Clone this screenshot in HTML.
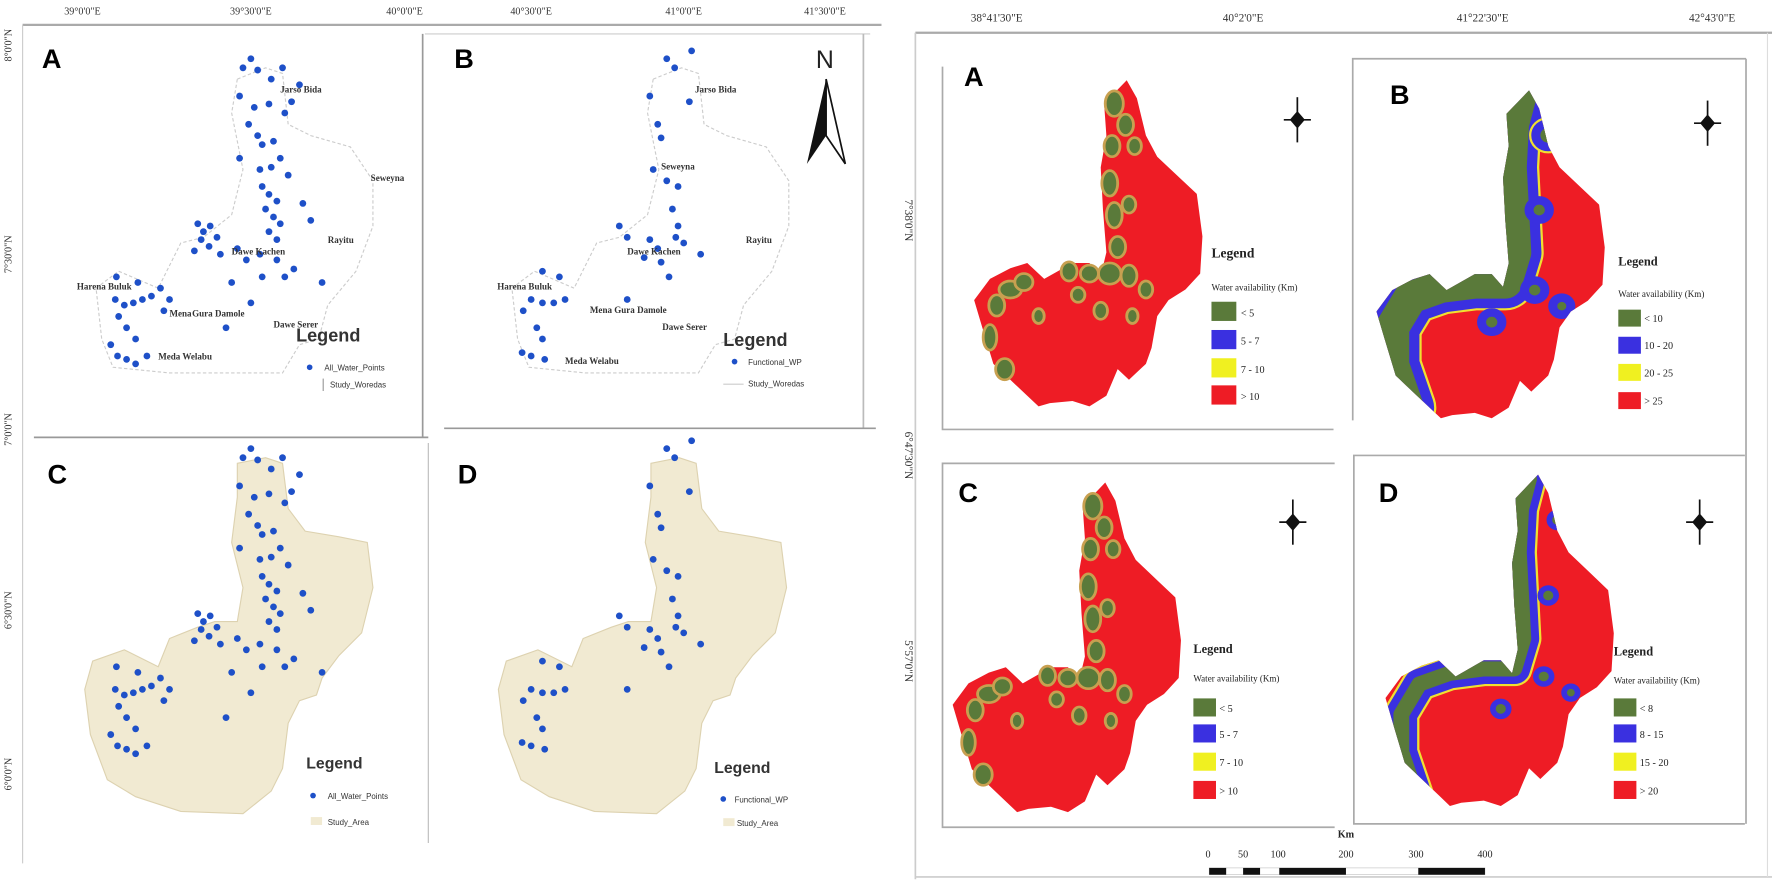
<!DOCTYPE html>
<html><head><meta charset="utf-8">
<style>
html,body{margin:0;padding:0;background:#fff;}
svg{display:block;}
.t{font-family:"Liberation Serif",serif;}
.s{font-family:"Liberation Sans",sans-serif;}
</style></head>
<body>
<svg width="1772" height="886" viewBox="0 0 1772 886" xmlns="http://www.w3.org/2000/svg">
<defs>
  <polygon id="rp" points="963,100 983,78 992,95 1000,130 1010,150 1030,170 1045,185 1050,225 1048,260 1035,275 1020,285 1010,300 1005,330 1000,345 985,360 975,350 965,375 950,385 935,380 915,382 905,385 895,375 880,360 865,345 855,310 848,285 862,265 880,255 895,250 910,265 935,250 950,250 960,262 965,240 962,200 960,160 965,130"/>
  <g id="red"><use href="#rp" fill="#ee1c25"/></g>
  <clipPath id="rc"><use href="#rp"/></clipPath>
  <g id="greenA" fill="#5a7a3a" stroke="#c8a050" stroke-width="2.5">
    <ellipse cx="972" cy="100" rx="8" ry="12"/><ellipse cx="982" cy="120" rx="7" ry="10"/>
    <ellipse cx="970" cy="140" rx="7" ry="10"/><ellipse cx="990" cy="140" rx="6" ry="8"/>
    <ellipse cx="968" cy="175" rx="7" ry="12"/><ellipse cx="972" cy="205" rx="7" ry="12"/>
    <ellipse cx="985" cy="195" rx="6" ry="8"/><ellipse cx="975" cy="235" rx="7" ry="10"/>
    <ellipse cx="968" cy="260" rx="10" ry="10"/><ellipse cx="985" cy="262" rx="7" ry="10"/>
    <ellipse cx="1000" cy="275" rx="6" ry="8"/><ellipse cx="950" cy="260" rx="8" ry="8"/>
    <ellipse cx="932" cy="258" rx="7" ry="9"/><ellipse cx="940" cy="280" rx="6" ry="7"/>
    <ellipse cx="960" cy="295" rx="6" ry="8"/><ellipse cx="988" cy="300" rx="5" ry="7"/>
    <ellipse cx="880" cy="275" rx="10" ry="8"/><ellipse cx="892" cy="268" rx="8" ry="8"/>
    <ellipse cx="868" cy="290" rx="7" ry="10"/><ellipse cx="862" cy="320" rx="6" ry="12"/>
    <ellipse cx="875" cy="350" rx="8" ry="10"/><ellipse cx="905" cy="300" rx="5" ry="7"/>
  </g>
  <g id="bdots" fill="#1e50c8">
    <circle cx="215" cy="60" r="3"/><circle cx="222" cy="52" r="3"/><circle cx="228" cy="62" r="3"/><circle cx="240" cy="70" r="3"/><circle cx="250" cy="60" r="3"/>
    <circle cx="212" cy="85" r="3"/><circle cx="225" cy="95" r="3"/><circle cx="238" cy="92" r="3"/><circle cx="252" cy="100" r="3"/><circle cx="220" cy="110" r="3"/>
    <circle cx="228" cy="120" r="3"/><circle cx="232" cy="128" r="3"/><circle cx="242" cy="125" r="3"/><circle cx="258" cy="90" r="3"/><circle cx="265" cy="75" r="3"/>
    <circle cx="212" cy="140" r="3"/><circle cx="230" cy="150" r="3"/><circle cx="240" cy="148" r="3"/><circle cx="248" cy="140" r="3"/><circle cx="255" cy="155" r="3"/>
    <circle cx="232" cy="165" r="3"/><circle cx="238" cy="172" r="3"/><circle cx="245" cy="178" r="3"/><circle cx="235" cy="185" r="3"/><circle cx="242" cy="192" r="3"/>
    <circle cx="248" cy="198" r="3"/><circle cx="238" cy="205" r="3"/><circle cx="245" cy="212" r="3"/><circle cx="268" cy="180" r="3"/><circle cx="275" cy="195" r="3"/>
    <circle cx="175" cy="198" r="3"/><circle cx="180" cy="205" r="3"/><circle cx="186" cy="200" r="3"/><circle cx="178" cy="212" r="3"/><circle cx="185" cy="218" r="3"/>
    <circle cx="192" cy="210" r="3"/><circle cx="172" cy="222" r="3"/><circle cx="195" cy="225" r="3"/><circle cx="210" cy="220" r="3"/><circle cx="218" cy="230" r="3"/>
    <circle cx="230" cy="225" r="3"/><circle cx="245" cy="230" r="3"/><circle cx="252" cy="245" r="3"/><circle cx="232" cy="245" r="3"/><circle cx="260" cy="238" r="3"/>
    <circle cx="205" cy="250" r="3"/><circle cx="222" cy="268" r="3"/><circle cx="285" cy="250" r="3"/>
    <circle cx="102" cy="265" r="3"/><circle cx="110" cy="270" r="3"/><circle cx="118" cy="268" r="3"/><circle cx="126" cy="265" r="3"/><circle cx="134" cy="262" r="3"/>
    <circle cx="142" cy="255" r="3"/><circle cx="122" cy="250" r="3"/><circle cx="105" cy="280" r="3"/><circle cx="112" cy="290" r="3"/><circle cx="120" cy="300" r="3"/>
    <circle cx="98" cy="305" r="3"/><circle cx="104" cy="315" r="3"/><circle cx="112" cy="318" r="3"/><circle cx="120" cy="322" r="3"/><circle cx="130" cy="315" r="3"/>
    <circle cx="145" cy="275" r="3"/><circle cx="150" cy="265" r="3"/><circle cx="103" cy="245" r="3"/><circle cx="200" cy="290" r="3"/>
  </g>
  <g id="fdots" fill="#1e50c8">
    <circle cx="590" cy="52" r="3"/><circle cx="597" cy="60" r="3"/><circle cx="612" cy="45" r="3"/><circle cx="575" cy="85" r="3"/><circle cx="610" cy="90" r="3"/>
    <circle cx="582" cy="110" r="3"/><circle cx="585" cy="122" r="3"/><circle cx="578" cy="150" r="3"/><circle cx="590" cy="160" r="3"/><circle cx="600" cy="165" r="3"/>
    <circle cx="595" cy="185" r="3"/><circle cx="600" cy="200" r="3"/><circle cx="598" cy="210" r="3"/><circle cx="548" cy="200" r="3"/><circle cx="555" cy="210" r="3"/>
    <circle cx="575" cy="212" r="3"/><circle cx="582" cy="220" r="3"/><circle cx="570" cy="228" r="3"/><circle cx="585" cy="232" r="3"/><circle cx="605" cy="215" r="3"/>
    <circle cx="620" cy="225" r="3"/><circle cx="592" cy="245" r="3"/><circle cx="555" cy="265" r="3"/><circle cx="480" cy="240" r="3"/><circle cx="495" cy="245" r="3"/>
    <circle cx="470" cy="265" r="3"/><circle cx="480" cy="268" r="3"/><circle cx="490" cy="268" r="3"/><circle cx="500" cy="265" r="3"/><circle cx="463" cy="275" r="3"/>
    <circle cx="475" cy="290" r="3"/><circle cx="480" cy="300" r="3"/><circle cx="462" cy="312" r="3"/><circle cx="470" cy="315" r="3"/><circle cx="482" cy="318" r="3"/>
  </g>
  <g id="beige">
    <polygon fill="#f1ead2" stroke="#ddd2b0" stroke-width="1" points="210,410 235,405 250,410 255,450 270,470 300,475 325,480 330,520 320,560 300,580 285,600 280,615 265,620 255,640 250,680 240,700 215,720 160,718 120,705 95,690 80,650 75,610 82,585 110,575 140,590 150,565 175,555 190,550 210,550 215,520 205,480 210,440"/>
  </g>
  <polyline id="path" points="975,82 968,110 966,150 968,190 970,230 962,258 935,258 905,262 878,272 862,300 862,335 875,375"/>
  <g id="zoneB">
    <use href="#red"/>
    <g clip-path="url(#rc)">
      <g fill="none" stroke-linejoin="round" stroke-linecap="round">
        <use href="#path" stroke="#f0e030" stroke-width="52"/>
        <use href="#path" stroke="#3a30e0" stroke-width="48"/>
        <use href="#path" stroke="#5a7a3a" stroke-width="30"/>
      </g>
      <g fill="#5a7a3a" stroke="#3a30e0" stroke-width="8">
        <circle cx="1000" cy="120" r="11" stroke="#f0e030" stroke-width="12"/><circle cx="1000" cy="120" r="11"/>
        <circle cx="992" cy="190" r="9"/><circle cx="988" cy="265" r="9"/><circle cx="950" cy="295" r="9"/><circle cx="1012" cy="280" r="8"/>
      </g>
    </g>
  </g>
  <g id="zoneD">
    <use href="#red"/>
    <g clip-path="url(#rc)">
      <g fill="none" stroke-linejoin="round" stroke-linecap="round">
        <use href="#path" stroke="#f0e030" stroke-width="32"/>
        <use href="#path" stroke="#3a30e0" stroke-width="28"/>
        <use href="#path" stroke="#5a7a3a" stroke-width="14"/>
      </g>
      <g fill="#5a7a3a" stroke="#3a30e0" stroke-width="5">
        <circle cx="1000" cy="120" r="7"/><circle cx="992" cy="190" r="7"/><circle cx="988" cy="265" r="7"/><circle cx="950" cy="295" r="7"/><circle cx="1012" cy="280" r="6"/>
      </g>
    </g>
  </g>
  <g id="cmp" stroke="#111" fill="#111">
    <line x1="0" y1="-20" x2="0" y2="20" stroke-width="1.5"/>
    <line x1="-12" y1="0" x2="12" y2="0" stroke-width="1.5"/>
    <polygon points="0,-7 6,0 0,7 -6,0"/>
  </g>
</defs>

<g transform="scale(1.1301)">
<!-- LEFT FIGURE -->
<g class="t" font-size="9" fill="#333" text-anchor="middle">
  <text x="73" y="13">39°0'0"E</text><text x="222" y="13">39°30'0"E</text><text x="358" y="13">40°0'0"E</text>
  <text x="470" y="13">40°30'0"E</text><text x="605" y="13">41°0'0"E</text><text x="730" y="13">41°30'0"E</text>
</g>
<g class="t" font-size="9" fill="#333">
  <text transform="translate(10,40) rotate(-90)" text-anchor="middle">8°0'0"N</text>
  <text transform="translate(10,225) rotate(-90)" text-anchor="middle">7°30'0"N</text>
  <text transform="translate(10,380) rotate(-90)" text-anchor="middle">7°0'0"N</text>
  <text transform="translate(10,540) rotate(-90)" text-anchor="middle">6°30'0"N</text>
  <text transform="translate(10,685) rotate(-90)" text-anchor="middle">6°0'0"N</text>
</g>
<line x1="20" y1="22" x2="780" y2="22" stroke="#aaa" stroke-width="2"/>
<line x1="20" y1="22" x2="20" y2="764" stroke="#ccc" stroke-width="1"/>
<line x1="374" y1="30" x2="374" y2="387" stroke="#999" stroke-width="1.5"/>
<line x1="30" y1="387" x2="379" y2="387" stroke="#999" stroke-width="1.5"/>
<line x1="376" y1="30" x2="770" y2="30" stroke="#ccc" stroke-width="1"/>
<line x1="764" y1="30" x2="764" y2="379" stroke="#bbb" stroke-width="1.5"/>
<line x1="393" y1="379" x2="775" y2="379" stroke="#999" stroke-width="1.5"/>
<line x1="379" y1="392" x2="379" y2="746" stroke="#bbb" stroke-width="1"/>

<g fill="none" stroke="#ccc" stroke-width="1" stroke-dasharray="3,2">
  <polygon points="210,70 235,60 250,65 255,110 275,120 310,130 330,160 330,200 315,240 290,270 282,300 265,305 250,330 200,330 150,330 100,325 90,300 85,255 105,240 140,255 160,215 180,210 205,190 215,150 205,100"/>
  <polygon transform="translate(368,0)" points="210,70 235,60 250,65 255,110 275,120 310,130 330,160 330,200 315,240 290,270 282,300 265,305 250,330 200,330 150,330 100,325 90,300 85,255 105,240 140,255 160,215 180,210 205,190 215,150 205,100"/>
</g>
<use href="#bdots"/>
<use href="#fdots"/>
<use href="#beige"/>
<use href="#beige" transform="translate(366,0)"/>
<use href="#bdots" transform="translate(0,345)"/>
<use href="#fdots" transform="translate(0,345)"/>

<g class="s" font-size="24" font-weight="bold" fill="#000">
  <text x="37" y="60">A</text><text x="402" y="60">B</text>
  <text x="42" y="428">C</text><text x="405" y="428">D</text>
</g>
<g class="t" font-size="8" font-weight="bold" fill="#333">
  <text x="248" y="82">Jarso Bida</text><text x="328" y="160">Seweyna</text><text x="290" y="215">Rayitu</text>
  <text x="205" y="225">Dawe Kachen</text><text x="68" y="256">Harena Buluk</text><text x="150" y="280">Mena</text>
  <text x="170" y="280">Gura Damole</text><text x="242" y="290">Dawe Serer</text><text x="140" y="318">Meda Welabu</text>
  <text x="615" y="82">Jarso Bida</text><text x="585" y="150">Seweyna</text><text x="660" y="215">Rayitu</text>
  <text x="555" y="225">Dawe Kachen</text><text x="440" y="256">Harena Buluk</text><text x="522" y="277">Mena Gura Damole</text>
  <text x="586" y="292">Dawe Serer</text><text x="500" y="322">Meda Welabu</text>
</g>
<g class="s" fill="#333">
  <text x="262" y="302" font-size="16" font-weight="bold">Legend</text>
  <circle cx="274" cy="325" r="2.5" fill="#1e50c8"/><text x="287" y="328" font-size="7">All_Water_Points</text>
  <line x1="286" y1="335" x2="286" y2="346" stroke="#999"/><text x="292" y="343" font-size="7">Study_Woredas</text>
  <text x="640" y="306" font-size="16" font-weight="bold">Legend</text>
  <circle cx="650" cy="320" r="2.5" fill="#1e50c8"/><text x="662" y="323" font-size="7">Functional_WP</text>
  <line x1="640" y1="340" x2="658" y2="340" stroke="#ccc"/><text x="662" y="342" font-size="7">Study_Woredas</text>
  <text x="271" y="680" font-size="14" font-weight="bold">Legend</text>
  <circle cx="277" cy="704" r="2.5" fill="#1e50c8"/><text x="290" y="707" font-size="7">All_Water_Points</text>
  <rect x="275" y="723" width="10" height="7" fill="#f1ead2"/><text x="290" y="730" font-size="7">Study_Area</text>
  <text x="632" y="684" font-size="14" font-weight="bold">Legend</text>
  <circle cx="640" cy="707" r="2.5" fill="#1e50c8"/><text x="650" y="710" font-size="7">Functional_WP</text>
  <rect x="640" y="724" width="10" height="7" fill="#f1ead2"/><text x="652" y="731" font-size="7">Study_Area</text>
</g>
<g>
  <text x="722" y="60" class="s" font-size="22" fill="#222">N</text>
  <polygon points="731,70 714,145 731,120" fill="#111"/>
  <polygon points="731,70 748,145 731,120" fill="#fff" stroke="#111" stroke-width="1.5"/>
</g>

<!-- RIGHT FIGURE -->
<g class="t" font-size="10" fill="#333" text-anchor="middle">
  <text x="882" y="19">38°41'30"E</text><text x="1100" y="19">40°2'0"E</text>
  <text x="1312" y="19">41°22'30"E</text><text x="1515" y="19">42°43'0"E</text>
</g>
<g class="t" font-size="10" fill="#333">
  <text transform="translate(801,195) rotate(90)" text-anchor="middle">7°38'0"N</text>
  <text transform="translate(801,403) rotate(90)" text-anchor="middle">6°47'30"N</text>
  <text transform="translate(801,585) rotate(90)" text-anchor="middle">5°57'0"N</text>
</g>
<line x1="810" y1="29" x2="1568" y2="29" stroke="#aaa" stroke-width="2"/>
<line x1="810" y1="29" x2="810" y2="778" stroke="#ccc" stroke-width="1.5"/>
<line x1="810" y1="776" x2="1568" y2="776" stroke="#ccc" stroke-width="1.5"/>
<line x1="1564" y1="29" x2="1564" y2="776" stroke="#ddd" stroke-width="1"/>
<g stroke="#aaa" stroke-width="1.5" fill="none">
  <polyline points="834,59 834,380 1180,380"/>
  <polyline points="1545,52 1197,52 1197,372"/>
  <line x1="1545" y1="52" x2="1545" y2="729"/>
  <polyline points="1181,410 834,410 834,732 1181,732"/>
  <polyline points="1544,403 1198,403 1198,729 1544,729"/>
</g>
<g transform="translate(862,71) scale(1,0.94) translate(-848,-78)"><use href="#red"/><use href="#greenA"/></g>
<g transform="translate(843,427) scale(1,0.95) translate(-848,-78)"><use href="#red"/><use href="#greenA"/></g>
<g transform="translate(1218,80) scale(1,0.945) translate(-848,-78)"><use href="#zoneB"/></g>
<g transform="translate(1226,420) scale(1,0.955) translate(-848,-78)"><use href="#zoneD"/></g>

<g class="s" font-size="24" font-weight="bold" fill="#000">
  <text x="853" y="76">A</text><text x="1230" y="92">B</text>
  <text x="848" y="444">C</text><text x="1220" y="444">D</text>
</g>
<use href="#cmp" transform="translate(1148,106)"/>
<use href="#cmp" transform="translate(1511,109)"/>
<use href="#cmp" transform="translate(1144,462)"/>
<use href="#cmp" transform="translate(1504,462)"/>

<g class="t" fill="#222">
  <g>
    <text x="1072" y="228" font-size="12" font-weight="bold">Legend</text>
    <text x="1072" y="257" font-size="8">Water availability (Km)</text>
    <rect x="1072" y="267" width="22" height="17" fill="#5a7a3a"/><text x="1098" y="280" font-size="9">&lt; 5</text>
    <rect x="1072" y="292" width="22" height="17" fill="#3a30e0"/><text x="1098" y="305" font-size="9">5 - 7</text>
    <rect x="1072" y="317" width="22" height="17" fill="#f0f020"/><text x="1098" y="330" font-size="9">7 - 10</text>
    <rect x="1072" y="341" width="22" height="17" fill="#ee1c25"/><text x="1098" y="354" font-size="9">&gt; 10</text>
  </g>
  <g>
    <text x="1432" y="235" font-size="11" font-weight="bold">Legend</text>
    <text x="1432" y="263" font-size="8">Water availability (Km)</text>
    <rect x="1432" y="274" width="20" height="15" fill="#5a7a3a"/><text x="1455" y="285" font-size="9">&lt; 10</text>
    <rect x="1432" y="298" width="20" height="15" fill="#3a30e0"/><text x="1455" y="309" font-size="9">10 - 20</text>
    <rect x="1432" y="322" width="20" height="15" fill="#f0f020"/><text x="1455" y="333" font-size="9">20 - 25</text>
    <rect x="1432" y="347" width="20" height="15" fill="#ee1c25"/><text x="1455" y="358" font-size="9">&gt; 25</text>
  </g>
  <g>
    <text x="1056" y="578" font-size="11" font-weight="bold">Legend</text>
    <text x="1056" y="603" font-size="8">Water availability (Km)</text>
    <rect x="1056" y="618" width="20" height="16" fill="#5a7a3a"/><text x="1079" y="630" font-size="9">&lt; 5</text>
    <rect x="1056" y="641" width="20" height="16" fill="#3a30e0"/><text x="1079" y="653" font-size="9">5 - 7</text>
    <rect x="1056" y="666" width="20" height="16" fill="#f0f020"/><text x="1079" y="678" font-size="9">7 - 10</text>
    <rect x="1056" y="691" width="20" height="16" fill="#ee1c25"/><text x="1079" y="703" font-size="9">&gt; 10</text>
  </g>
  <g>
    <text x="1428" y="580" font-size="11" font-weight="bold">Legend</text>
    <text x="1428" y="605" font-size="8">Water availability (Km)</text>
    <rect x="1428" y="618" width="20" height="16" fill="#5a7a3a"/><text x="1451" y="630" font-size="9">&lt; 8</text>
    <rect x="1428" y="641" width="20" height="16" fill="#3a30e0"/><text x="1451" y="653" font-size="9">8 - 15</text>
    <rect x="1428" y="666" width="20" height="16" fill="#f0f020"/><text x="1451" y="678" font-size="9">15 - 20</text>
    <rect x="1428" y="691" width="20" height="16" fill="#ee1c25"/><text x="1451" y="703" font-size="9">&gt; 20</text>
  </g>
</g>

<g class="t" font-size="9" fill="#222" text-anchor="middle">
  <text x="1191" y="741" font-weight="bold">Km</text>
  <text x="1069" y="759">0</text><text x="1100" y="759">50</text><text x="1131" y="759">100</text>
  <text x="1191" y="759">200</text><text x="1253" y="759">300</text><text x="1314" y="759">400</text>
</g>
<rect x="1070" y="768" width="244" height="6" fill="none" stroke="#bbb" stroke-width="0.5"/>
<g fill="#111">
  <rect x="1070" y="768" width="15" height="6"/><rect x="1100" y="768" width="15" height="6"/>
  <rect x="1132" y="768" width="59" height="6"/><rect x="1255" y="768" width="59" height="6"/>
</g>
</g>
</svg>
</body></html>
